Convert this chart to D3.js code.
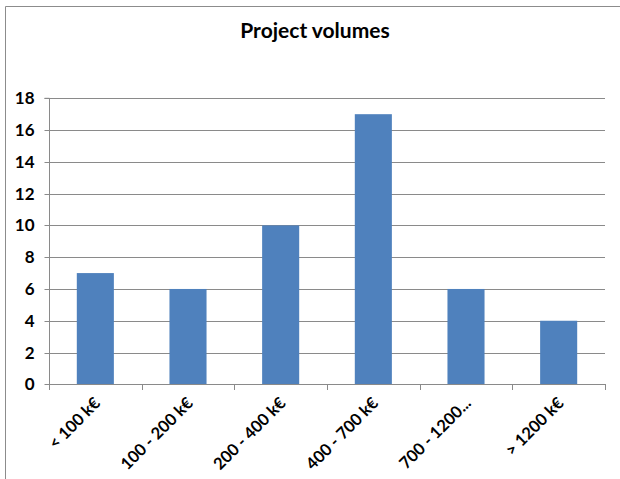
<!DOCTYPE html>
<html><head><meta charset="utf-8">
<script src="https://cdn.jsdelivr.net/npm/d3@7"></script>
<style>body{margin:0;background:#fff;}svg{display:block;}</style>
</head><body>
<script>
const categories = ["< 100 k€", "100 - 200 k€", "200 - 400 k€", "400 - 700 k€", "700 - 1200...", "> 1200 k€"];
const values = [7, 6, 10, 17, 6, 4];
const yTicks = [0, 2, 4, 6, 8, 10, 12, 14, 16, 18];
const title = "Project volumes";

const W = 620, H = 479;
const m = {left: 49, right: 15, top: 98.3, bottom: 94.7};
const svg = d3.select("body").append("svg").attr("width", W).attr("height", H);
const font = "Lato, 'Open Sans', sans-serif";

// frame
svg.append("path").attr("d", "M5.5,479 L5.5,6.5 L620,6.5").attr("fill", "none").attr("stroke", "#8c8c8c").attr("stroke-width", 1);

const x = d3.scaleBand().domain(categories).range([m.left, W - m.right]).paddingInner(0.6).paddingOuter(0.3);
const y = d3.scaleLinear().domain([0, 18]).range([H - m.bottom, m.top]);

// gridlines
svg.append("g").selectAll("line").data(yTicks.filter(d => d > 0)).join("line")
  .attr("x1", m.left).attr("x2", W - m.right)
  .attr("y1", d => Math.round(y(d)) + 0.5).attr("y2", d => Math.round(y(d)) + 0.5)
  .attr("stroke", "#8a8a8a").attr("stroke-width", 1);

// bars
svg.append("g").selectAll("rect").data(values).join("rect")
  .attr("x", (d, i) => x(categories[i])).attr("width", x.bandwidth())
  .attr("y", d => y(d)).attr("height", d => y(0) - y(d))
  .attr("fill", "#4f81bd");

// y axis
const yAxis = svg.append("g").attr("transform", `translate(${m.left + 0.5},0)`)
  .call(d3.axisLeft(y).tickValues(yTicks).tickSize(5).tickPadding(10).tickFormat(d3.format("d")));
yAxis.select(".domain").attr("stroke", "#8a8a8a").attr("d", `M-5,${y(18)}H0V${y(0)}`);
yAxis.selectAll(".tick line").attr("stroke", "#8a8a8a");
yAxis.selectAll(".tick").attr("transform", d => `translate(0,${Math.round(y(d)) + 0.5})`);
yAxis.selectAll("text").attr("font-family", font).attr("font-weight", "bold").attr("font-size", 17).attr("fill", "#000");

// x axis
const bounds = d3.range(categories.length + 1).map(i => m.left + i * (W - m.left - m.right) / categories.length);
const xg = svg.append("g");
xg.append("line").attr("x1", m.left).attr("x2", W - m.right)
  .attr("y1", Math.round(y(0)) + 0.5).attr("y2", Math.round(y(0)) + 0.5).attr("stroke", "#8a8a8a");
xg.selectAll("line.tk").data(bounds).join("line").attr("class", "tk")
  .attr("x1", d => Math.round(d) + 0.5).attr("x2", d => Math.round(d) + 0.5)
  .attr("y1", Math.round(y(0))).attr("y2", Math.round(y(0)) + 6).attr("stroke", "#8a8a8a");
xg.selectAll("text").data(categories).join("text")
  .attr("transform", d => `translate(${x(d) + x.bandwidth() / 2 + 6},${y(0) + 20}) rotate(-45)`)
  .attr("text-anchor", "end")
  .attr("font-family", font).attr("font-weight", "bold").attr("font-size", 16.5).attr("fill", "#000")
  .text(d => d);

// title
svg.append("text").attr("x", 315).attr("y", 38).attr("text-anchor", "middle")
  .attr("font-family", font).attr("font-weight", "bold").attr("font-size", 21).attr("fill", "#000")
  .text(title);
</script>
</body></html>
